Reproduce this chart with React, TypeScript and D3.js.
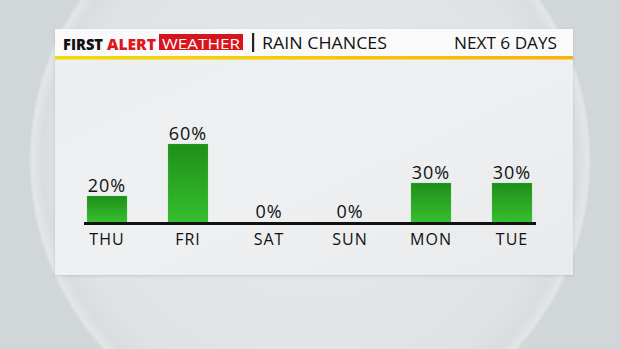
import React from "react";
import * as d3 from "d3";

const days = ["THU", "FRI", "SAT", "SUN", "MON", "TUE"];
const rainChances = [20, 60, 0, 0, 30, 30];
const titleBrand = ["FIRST", "ALERT", "WEATHER"];
const titleMain = "RAIN CHANCES";
const titleRight = "NEXT 6 DAYS";

const W = 620;
const H = 349;
const FONT = "'Open Sans', 'DejaVu Sans', sans-serif";

export default function App() {
  const x = d3.scalePoint<string>().domain(days).range([66.5, 552.5]).padding(0.5);
  const y = d3.scaleLinear().domain([0, 100]).range([222, 92]);
  const barW = 40;

  return (
    <svg width={W} height={H} style={{ position: "absolute", left: 0, top: 0 }}>
      <defs>
        <radialGradient id="bgc" cx="310" cy="160" r="282" gradientUnits="userSpaceOnUse">
          <stop offset="0" stopColor="#e6e8ea" />
          <stop offset="0.85" stopColor="#e0e3e5" />
          <stop offset="0.95" stopColor="#d9dddf" />
          <stop offset="0.985" stopColor="#e3e6e7" />
          <stop offset="1" stopColor="#d0d5d7" />
        </radialGradient>
        <linearGradient id="panel" x1="0" y1="0" x2="1" y2="1">
          <stop offset="0" stopColor="#eceeef" />
          <stop offset="0.5" stopColor="#eef0f1" />
          <stop offset="1" stopColor="#e8eaeb" />
        </linearGradient>
        <linearGradient id="yellow" x1="0" y1="0" x2="1" y2="0">
          <stop offset="0" stopColor="#f4d90a" />
          <stop offset="1" stopColor="#fbb30a" />
        </linearGradient>
        <linearGradient id="bar" x1="0" y1="0" x2="0" y2="1">
          <stop offset="0" stopColor="#1f8f1a" />
          <stop offset="1" stopColor="#36be2e" />
        </linearGradient>
        <filter id="shadow" x="-10%" y="-10%" width="120%" height="130%">
          <feDropShadow dx="0" dy="1" stdDeviation="1.5" floodColor="#000" floodOpacity="0.12" />
        </filter>
      </defs>

      <rect x={0} y={0} width={W} height={H} fill="#d1d6d8" />
      <circle cx={310} cy={160} r={281} fill="url(#bgc)" />

      <g filter="url(#shadow)">
        <rect x={55} y={29} width={518} height={246} fill="url(#panel)" />
      </g>
      <rect x={55} y={29} width={518} height={28} fill="#fafafa" />
      <rect x={55} y={56} width={518} height={3.5} fill="url(#yellow)" />

      <text x={63} y={50} fontFamily={FONT} fontWeight={800} fontSize={15.5} fill="#111" textLength={40} lengthAdjust="spacingAndGlyphs">
        {titleBrand[0]}
      </text>
      <text x={107} y={50} fontFamily={FONT} fontWeight={800} fontSize={15.5} fill="#e0141e" textLength={49} lengthAdjust="spacingAndGlyphs">
        {titleBrand[1]}
      </text>
      <rect x={159} y={34} width={84} height={16} fill="#d8141c" />
      <text x={201} y={48.5} textAnchor="middle" fontFamily={FONT} fontWeight={500} fontSize={15} fill="#fff" textLength={78} lengthAdjust="spacingAndGlyphs">
        {titleBrand[2]}
      </text>
      <rect x={252} y={33} width={2.2} height={19} fill="#222" />
      <text x={262} y={49} fontFamily={FONT} fontWeight={500} fontSize={16} fill="#111" textLength={125} lengthAdjust="spacingAndGlyphs">
        {titleMain}
      </text>
      <text x={454} y={49} fontFamily={FONT} fontWeight={500} fontSize={16} fill="#111" textLength={103} lengthAdjust="spacingAndGlyphs">
        {titleRight}
      </text>

      {days.map((d, i) => {
        const cx = x(d)!;
        const v = rainChances[i];
        return (
          <g key={d}>
            {v > 0 && (
              <rect x={cx - barW / 2} y={y(v)} width={barW} height={y(0) - y(v)} fill="url(#bar)" stroke="#5fcf55" strokeOpacity={0.35} strokeWidth={0.6} />
            )}
            <text x={cx} y={y(v) - 4.5} textAnchor="middle" fontFamily={FONT} fontWeight={500} fontSize={18} letterSpacing={1} fill="#111">
              {`${v}%`}
            </text>
            <text x={cx} y={245} textAnchor="middle" fontFamily={FONT} fontWeight={500} fontSize={16} letterSpacing={1} fill="#111">
              {d}
            </text>
          </g>
        );
      })}

      <line x1={84} x2={536} y1={y(0) + 1.5} y2={y(0) + 1.5} stroke="#111" strokeWidth={3} />
    </svg>
  );
}
